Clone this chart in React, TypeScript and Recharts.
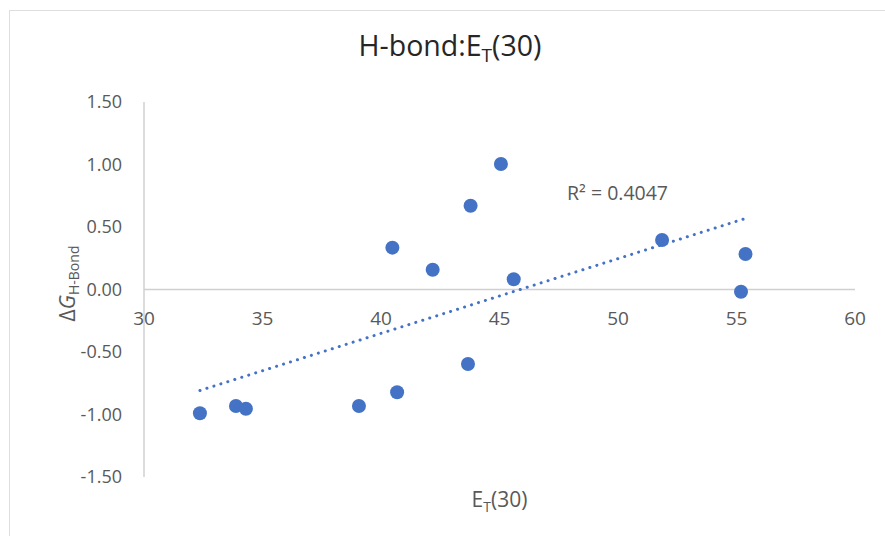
import { ScatterChart, Scatter, XAxis, YAxis, ReferenceLine, ReferenceDot } from 'recharts';

const etValues = [32.36, 33.88, 34.3, 39.07, 40.68, 40.48, 42.18, 43.67, 43.78, 45.06, 45.6, 51.86, 55.19, 55.38];
const dgValues = [-0.99, -0.932, -0.954, -0.932, -0.822, 0.335, 0.158, -0.596, 0.67, 1.004, 0.082, 0.396, -0.018, 0.284];
const xTicks = [30, 35, 40, 45, 50, 55, 60];
const yTicks = [-1.5, -1.0, -0.5, 0, 0.5, 1.0, 1.5];
const r2Text = 'R² = 0.4047';

const FONT = '"Open Sans", "Liberation Sans", sans-serif';
const BLUE = '#4472C4';
const GREY_TEXT = '#595959';

const points = etValues.map((x, i) => ({ x, y: dgValues[i] }));

// linear trendline (least squares), like Excel's
const n = points.length;
const mx = etValues.reduce((a, b) => a + b, 0) / n;
const my = dgValues.reduce((a, b) => a + b, 0) / n;
let sxy = 0;
let sxx = 0;
points.forEach(p => {
  sxy += (p.x - mx) * (p.y - my);
  sxx += (p.x - mx) * (p.x - mx);
});
const slope = sxy / sxx;
const intercept = my - slope * mx;
const xMin = Math.min(...etValues);
const xMax = Math.max(...etValues);

const YLabel = ({ viewBox }: any) => {
  const cx = 67;
  const cy = viewBox.y + viewBox.height / 2 - 6;
  return (
    <text x={cx} y={cy} transform={`rotate(-90 ${cx} ${cy})`} textAnchor="middle" dominantBaseline="central" fill={GREY_TEXT} fontFamily={FONT} fontSize={21}>
      Δ<tspan fontStyle="italic">G</tspan>
      <tspan fontSize={14} dy={6}>H-Bond</tspan>
    </text>
  );
};

const XLabel = ({ viewBox }: any) => {
  const cx = viewBox.x + viewBox.width / 2;
  return (
    <text x={cx} y={507} textAnchor="middle" fill={GREY_TEXT} fontFamily={FONT} fontSize={21}>
      E<tspan fontSize={14} dy={5}>T</tspan>
      <tspan dy={-5}>(30)</tspan>
    </text>
  );
};

export default function App() {
  return (
    <div style={{ position: 'fixed', left: 0, top: 0, width: 885, height: 536, overflow: 'hidden', background: '#fff' }}>
      <div style={{ position: 'absolute', left: 9, top: 10, width: 900, height: 600, border: '1.5px solid #dedede' }} />
      <div style={{ position: 'absolute', left: 0, width: 900, top: 26, textAlign: 'center', fontFamily: FONT, fontSize: 28.5, color: '#262626' }}>
        H-bond:E<sub style={{ fontSize: 19, verticalAlign: '-6px' }}>T</sub>(30)
      </div>
      <ScatterChart width={885} height={536} margin={{ top: 102, right: 30, bottom: 0, left: 0 }} style={{ position: 'absolute', left: 0, top: 0 }}>
        <XAxis
          type="number"
          dataKey="x"
          domain={[30, 60]}
          ticks={xTicks}
          height={59}
          tick={false}
          tickLine={false}
          axisLine={false}
          label={<XLabel />}
        />
        <YAxis
          type="number"
          dataKey="y"
          domain={[-1.5, 1.5]}
          ticks={yTicks}
          width={144}
          tickSize={0}
          tickMargin={22}
          tickLine={false}
          axisLine={{ stroke: '#d0d0d0', strokeWidth: 1.5 }}
          tickFormatter={(v: number) => v.toFixed(2)}
          tick={{ fill: GREY_TEXT, fontSize: 18, fontFamily: FONT }}
          label={<YLabel />}
        />
        <ReferenceLine y={0} stroke="#d0d0d0" strokeWidth={1.5} />
        {xTicks.map(t => (
          <ReferenceDot
            key={t}
            x={t}
            y={0}
            r={0}
            fill="none"
            stroke="none"
            label={{ value: String(t), position: 'bottom', offset: 22, fill: GREY_TEXT, fontSize: 19, fontFamily: FONT }}
          />
        ))}
        <ReferenceLine
          segment={[
            { x: xMin, y: slope * xMin + intercept },
            { x: xMax, y: slope * xMax + intercept },
          ]}
          stroke={BLUE}
          strokeWidth={3}
          strokeDasharray="0.1 7.2"
          strokeLinecap="round"
        />
        <ReferenceDot
          x={47.85}
          y={0.77}
          r={0}
          fill="none"
          stroke="none"
          label={{ value: r2Text, position: 'right', offset: 0, fill: GREY_TEXT, fontSize: 19.5, fontFamily: FONT }}
        />
        <Scatter
          data={points}
          isAnimationActive={false}
          shape={(p: any) => <circle cx={p.cx} cy={p.cy} r={7} fill={BLUE} />}
        />
      </ScatterChart>
    </div>
  );
}
